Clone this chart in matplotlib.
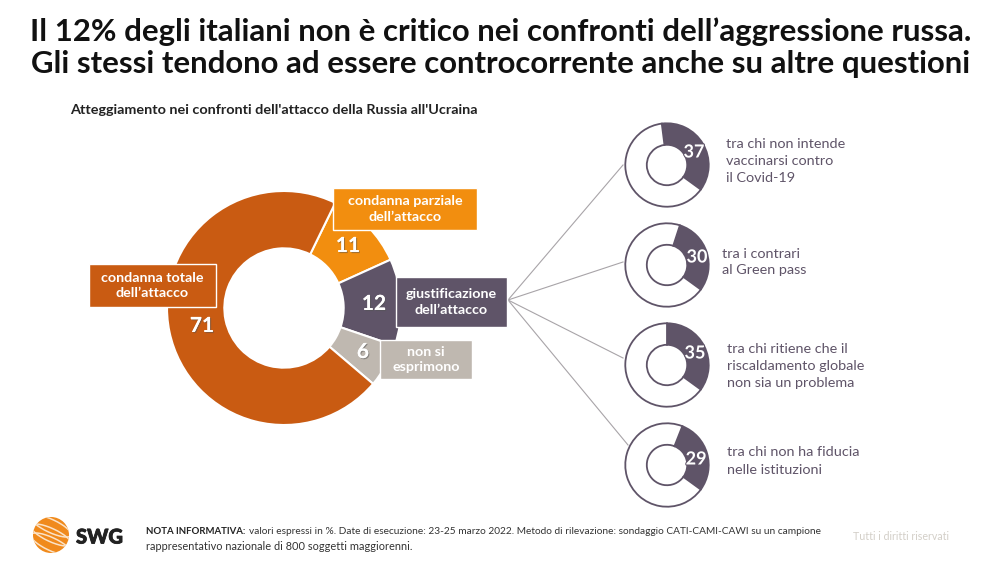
import matplotlib
matplotlib.use('Agg')
import matplotlib.pyplot as plt
import matplotlib.patheffects as pe
from matplotlib.patches import Rectangle, Circle, Arc

plt.rcParams['font.family'] = ['Lato', 'DejaVu Sans']

# main donut, clockwise from the upper right boundary
main_labels = ['11', '12', '6', '71']
main_values = [11, 12, 6, 71]
main_colors = ['#f28e0f', '#5f5468', '#bfb8b0', '#c95b12']

# small donuts
sub_values = [37, 30, 35, 29]
sub_texts = ['tra chi non intende\nvaccinarsi contro\nil Covid-19',
             'tra i contrari\nal Green pass',
             'tra chi ritiene che il\nriscaldamento globale\nnon sia un problema',
             'tra chi non ha fiducia\nnelle istituzioni']
sub_centers = [(667, 165), (667, 265), (667, 365), (667, 465)]
sub_text_pos = [(726, 161), (722, 262), (727, 366), (727, 461)]
sub_number_pos = [(694, 152), (697, 257), (695, 353), (696, 459)]
line_ends = [(623, 165), (623, 262), (623, 358), (628, 445)]

W, H = 1000, 563
fig = plt.figure(figsize=(W / 100, H / 100), dpi=100)
bg = fig.add_axes([0, 0, 1, 1])
bg.set_xlim(0, W)
bg.set_ylim(H, 0)
bg.axis('off')


def donut_axes(cx, cy, r):
    ax = fig.add_axes([(cx - r) / W, 1 - (cy + r) / H, 2 * r / W, 2 * r / H])
    ax.set_xlim(-1, 1)
    ax.set_ylim(-1, 1)
    ax.axis('off')
    return ax


# title
bg.text(501, 32, 'Il 12% degli italiani non è critico nei confronti dell’aggressione russa.',
        ha='center', va='center', fontsize=22.4, fontweight='bold', color='#111111')
bg.text(501, 64, 'Gli stessi tendono ad essere controcorrente anche su altre questioni',
        ha='center', va='center', fontsize=22.4, fontweight='bold', color='#111111')
bg.text(70, 110, "Atteggiamento nei confronti dell'attacco della Russia all'Ucraina",
        ha='left', va='center', fontsize=10.35, fontweight='bold', color='#222222')

# leader lines
for end in line_ends:
    bg.plot([508, end[0]], [300, end[1]], color='#a8a4a8', lw=0.8)

# main donut
ax = donut_axes(284, 308, 117)
ax.pie(main_values, colors=main_colors, startangle=64, counterclock=False, radius=1,
       wedgeprops=dict(width=0.49, edgecolor='white', linewidth=1.5))
ax.set_xlim(-1, 1)
ax.set_ylim(-1, 1)

# boxes and labels go above every donut
top = fig.add_axes([0, 0, 1, 1])
top.set_xlim(0, W)
top.set_ylim(H, 0)
top.axis('off')
top.patch.set_alpha(0)
top.set_zorder(10)

boxes = [(333, 188, 144, 42, main_colors[0], 'condanna parziale\ndell’attacco'),
         (396, 277, 111, 50, main_colors[1], 'giustificazione\ndell’attacco'),
         (380, 340, 92, 39, main_colors[2], 'non si\nesprimono'),
         (89, 264, 127, 43, main_colors[3], 'condanna totale\ndell’attacco')]
for x, y, w, h, c, label in boxes:
    top.add_patch(Rectangle((x, y), w, h, facecolor=c, edgecolor='white', lw=1))
    top.text(x + w / 2, y + h / 2, label, ha='center', va='center', color='white',
             fontsize=10.3, fontweight='bold', linespacing=1.35)

shadow = [pe.withSimplePatchShadow(offset=(0.8, -0.8), shadow_rgbFace='#555555', alpha=0.5), pe.Normal()]
number_pos = [(348, 246), (374, 304), (363, 352), (202, 326)]
for label, pos in zip(main_labels, number_pos):
    top.text(pos[0], pos[1], label, ha='center', va='center', color='white',
             fontsize=15, fontweight='bold', path_effects=shadow)

# small donuts
for value, center, label, tpos, npos in zip(sub_values, sub_centers, sub_texts, sub_text_pos, sub_number_pos):
    ax = donut_axes(center[0], center[1], 43)
    # filled part ends at the same place on all four
    start = 90 - 126 + value * 3.6
    ax.pie([value, 100 - value], colors=[main_colors[1], 'white'], startangle=start,
           counterclock=False, radius=0.97,
           wedgeprops=dict(width=0.5, edgecolor='#5f5468', linewidth=1.3))
    ax.set_xlim(-1, 1)
    ax.set_ylim(-1, 1)
    top.text(npos[0], npos[1], str(value), ha='center', va='center', color='white',
             fontsize=13, fontweight='bold', zorder=5,
             path_effects=[pe.withStroke(linewidth=1.5, foreground=main_colors[1])])
    top.text(tpos[0], tpos[1], label, ha='left', va='center', color='#5f5468',
             fontsize=10.4, linespacing=1.5)

# logo
logo = Circle((51, 535), 18, facecolor='#f08a1c', edgecolor='none')
top.add_patch(logo)
for dy in [-9, 0, 9]:
    arc = Arc((51, 535 + dy), 44, 13, angle=25, theta1=0, theta2=360, color='#fbe3c8', lw=1.1)
    top.add_patch(arc)
    arc.set_clip_path(logo)
top.text(76, 537, 'SWG', ha='left', va='center', fontsize=14.5, fontweight='black', color='#222222',
         path_effects=[pe.withStroke(linewidth=0.6, foreground='#222222')])

# notes
top.text(146, 532, 'NOTA INFORMATIVA:', ha='left', va='center', fontsize=6.95, fontweight='bold', color='#222222')
top.text(249, 532, 'valori espressi in %. Date di esecuzione: 23-25 marzo 2022. Metodo di rilevazione: sondaggio CATI-CAMI-CAWI su un campione',
         ha='left', va='center', fontsize=7.3, color='#333333')
top.text(146, 546, 'rappresentativo nazionale di 800 soggetti maggiorenni.', ha='left', va='center', fontsize=7.9, color='#333333')
top.text(949, 537, 'Tutti i diritti riservati', ha='right', va='center', fontsize=7.7, color='#d3cfc8')

fig.savefig('out.png', dpi=100)
